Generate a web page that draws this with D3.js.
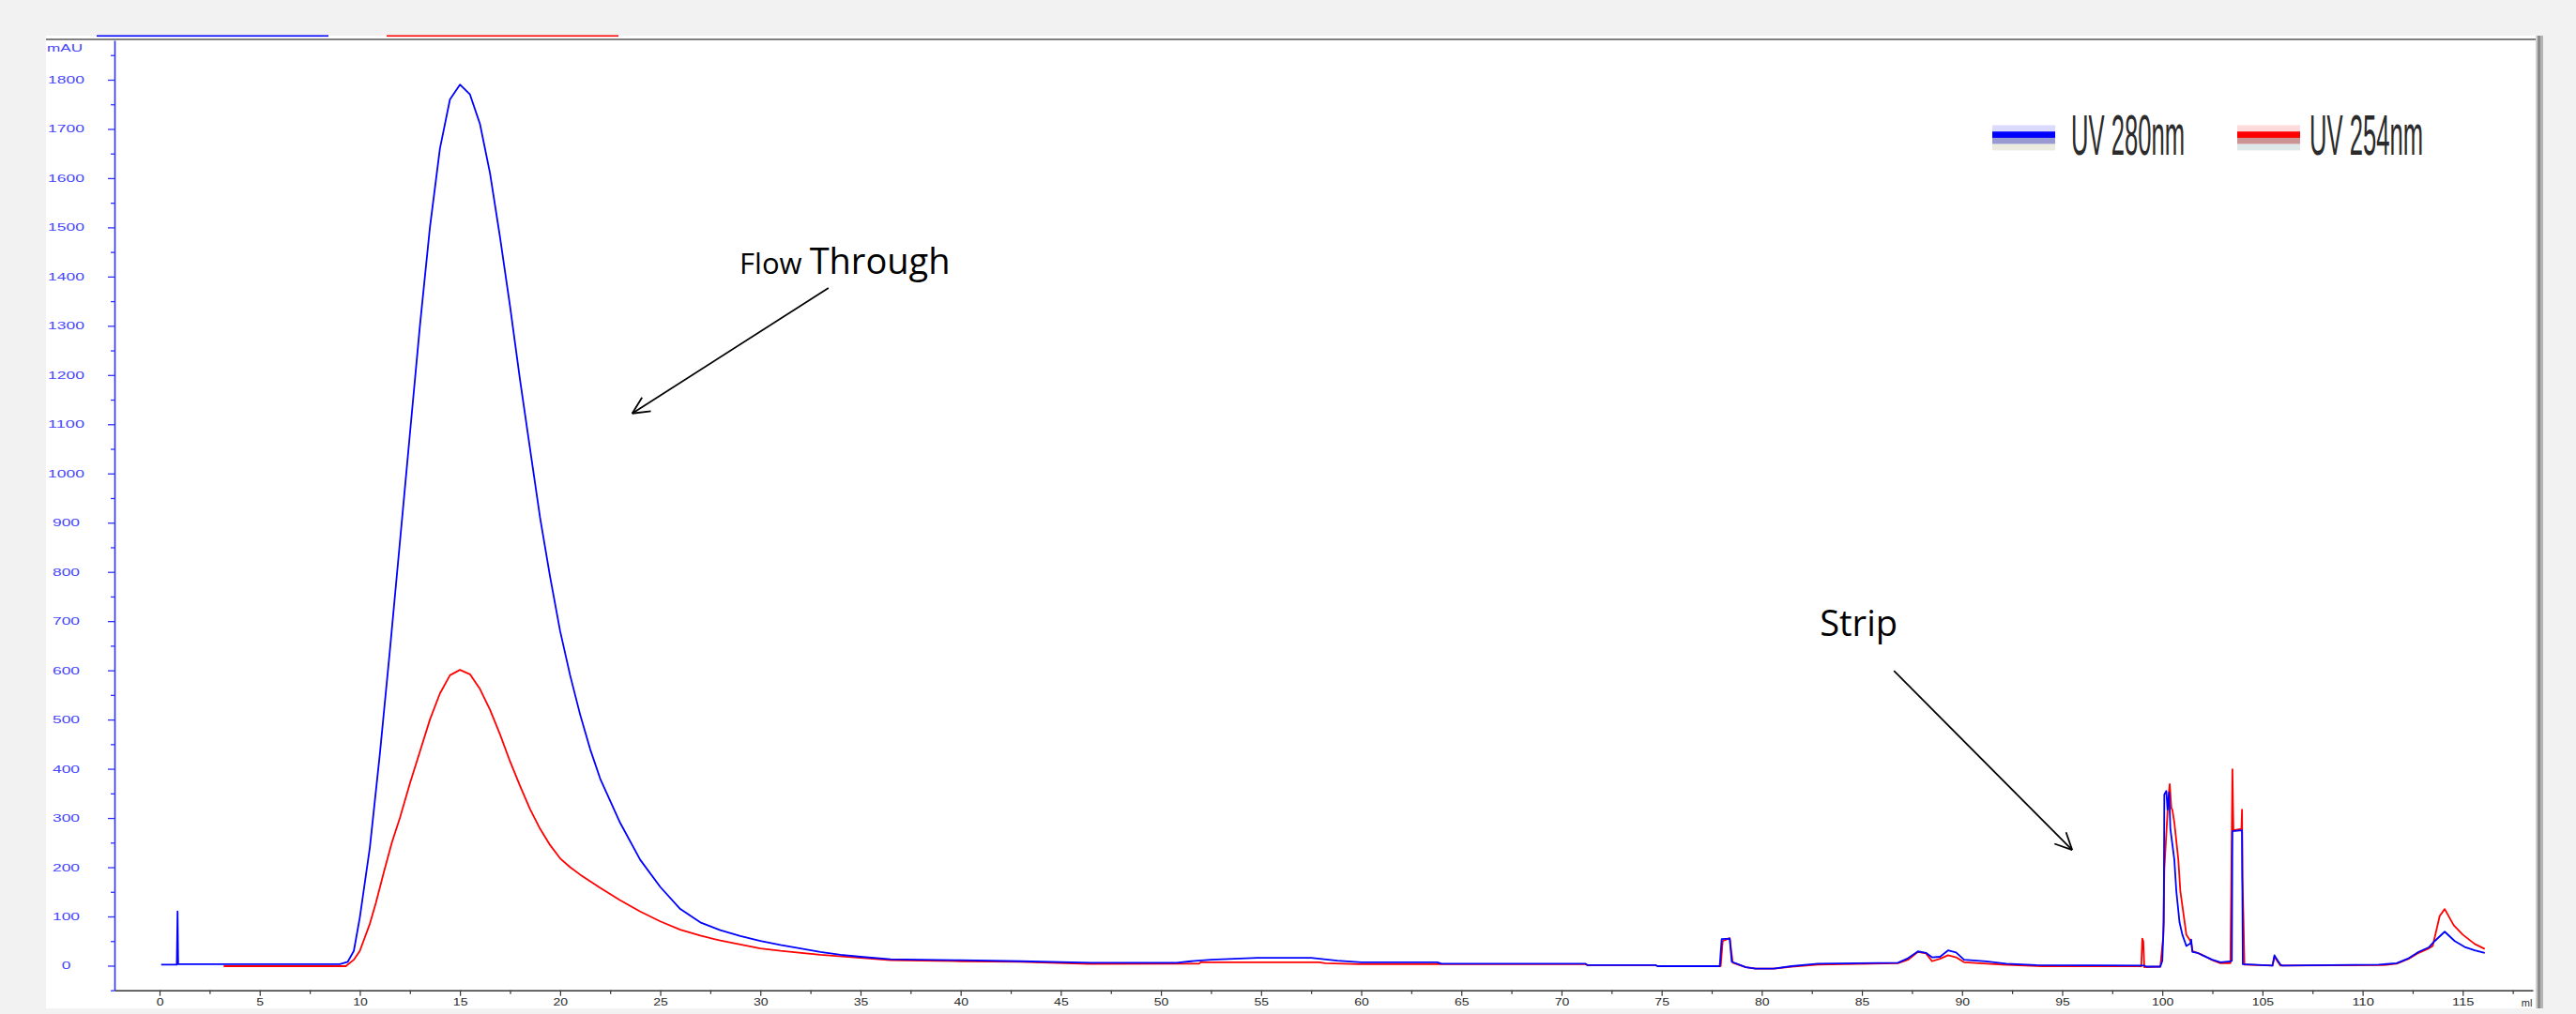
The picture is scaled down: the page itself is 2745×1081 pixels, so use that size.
<!DOCTYPE html>
<html>
<head>
<meta charset="utf-8">
<script src="https://cdn.jsdelivr.net/npm/d3@7"></script>
<style>
  html, body { margin: 0; padding: 0; background: #f2f2f2; overflow: hidden; }
  svg { display: block; }
</style>
</head>
<body>
<svg id="chart" width="2745" height="1081"></svg>
<script>
// UV 280 nm trace: [volume (ml), absorbance (mAU)]
const uv280 = [
  [0.08,2],[0.86,2],[0.9,110],[0.93,3],[3,3],[6,3],[9,3],[9.4,8],[9.7,30],[10.0,98],
  [10.5,240],[11.0,430],[11.5,640],[12.0,860],[12.5,1080],[13.0,1300],[13.5,1500],[14.0,1660],
  [14.5,1760],[15.0,1790],[15.5,1770],[16.0,1710],[16.5,1610],[17.0,1480],[17.5,1340],[18.0,1190],
  [18.5,1050],[19.0,910],[19.5,790],[20.0,680],[20.5,590],[21.0,510],[21.5,440],[22.0,380],
  [23.0,290],[24.0,215],[25.0,160],[26.0,115],[27.0,88],[28.0,72],[29.0,60],[30.0,50],[31.0,42],
  [32.0,35],[33.0,28],[34.0,22],[35.0,18],[36.5,13],[38,12],[40,11],[43,9],[46.5,6],[50.8,6],
  [51.5,9],[52.5,12],[54.8,16],[57.5,16],[58.8,10],[60,7],[63.8,7],[64,4],[71.2,4],[71.3,1],
  [74.7,1],[74.8,-1],[77.9,-1],[78.0,54],[78.4,55],[78.5,8],[79.2,-3],[79.7,-6],[80.6,-6],
  [81.5,-1],[82.8,4],[86.8,6],[87.3,15],[87.8,29],[88.2,26],[88.5,17],[88.9,18],[89.3,31],
  [89.7,27],[90.1,12],[91.2,8.6],[92.2,4],[93.7,1],[99.1,0],[99.2,-2],[99.9,-2],[100.0,10],
  [100.07,88],[100.1,348],[100.2,355],[100.26,317],[100.34,352],[100.4,279],[100.6,215],[100.7,151],
  [100.86,88],[101.0,63],[101.2,40],[101.4,45],[101.44,53],[101.5,28],[101.76,26],[102,21],
  [102.5,12],[102.9,7],[103.4,8.6],[103.47,10],[103.5,273],[103.98,275],[104.02,3],[105.5,0],
  [105.6,21],[105.7,14],[105.9,2],[106,0],[110.8,2],[111.7,5],[112.3,15],[112.8,28],[113.3,37],
  [113.6,50],[114.1,69],[114.6,50],[115.1,38],[115.6,31],[116.1,26]
];

// UV 254 nm trace: [volume (ml), absorbance (mAU)]
const uv254 = [
  [3.2,-1],[9.3,-1],[9.7,12],[10.0,30],[10.5,85],[10.8,127],[11.2,190],[11.6,250],[12.0,300],
  [12.5,370],[13.0,435],[13.5,500],[14.0,553],[14.5,590],[15.0,601],[15.5,592],[16.0,562],
  [16.5,520],[17.0,470],[17.5,415],[18.0,365],[18.5,318],[19.0,278],[19.5,245],[20.0,218],
  [20.5,200],[21.0,185],[22.0,158],[23.0,133],[24.0,110],[25.0,90],[26.0,73],[27.0,61],[28.0,51],
  [29.0,43],[30.0,35],[31.0,30],[33.0,22],[35.0,16],[36.5,11],[38,10],[40,9],[42.9,8],[46.4,3.5],
  [51.9,4],[52,7],[57.9,7],[58.2,5],[59.9,3],[71.2,3],[71.3,1],[74.7,1],[74.8,-1],[77.95,-1],
  [78.05,50],[78.4,56],[78.55,6],[79.2,-3],[79.7,-6],[80.6,-6],[81.5,-2],[82.8,2],[86.8,5],
  [87.3,12],[87.8,28],[88.2,25],[88.5,9],[88.9,14],[89.3,21],[89.7,17],[90.1,7],[92,2],[94,-1],
  [98.95,-1],[99.0,55],[99.05,50],[99.1,-3],[99.9,-2],[100.05,60],[100.1,196],[100.3,340],
  [100.37,369],[100.45,320],[100.5,317],[100.6,291],[100.8,215],[100.9,151],[101.2,63],
  [101.44,48],[101.5,30],[102,22],[102.5,11],[102.9,5],[103.4,5],[103.45,193],[103.5,399],
  [103.55,275],[103.95,278],[103.98,317],[104.0,180],[104.05,98],[104.1,2],[105.5,0],[105.6,18],
  [105.9,0],[111,1],[111.7,4],[112.3,14],[112.8,26],[113.3,35],[113.5,40],[113.85,101],
  [114.1,115],[114.55,82],[115.0,63],[115.6,44],[116.1,34]
];

const seriesNames = ["UV 280nm", "UV 254nm"];
const seriesColors = ["#0000ff", "#ff0000"];

// axis ticks
const yMajorTicks = d3.range(0, 1801, 100);
const yMinorTicks = d3.range(-50, 1851, 100);
const xMajorTicks = d3.range(0, 116, 5);
const xMinorTicks = d3.range(2.5, 118, 5);
const yUnit = "mAU";
const xUnit = "ml";

// text callouts, anchored in data units: label position and arrow from/to
const annotationLabels = [["Flow ", "Through"], ["Strip"]];
const annotationAnchors = [[28.96, 1406], [82.9, 669]];
const arrowFrom = [[33.4, 1377], [86.6, 599]];
const arrowTo = [[23.6, 1122], [95.5, 235]];

const svg = d3.select("#chart");

const x = d3.scaleLinear().domain([-2.25, 118.5]).range([122, 2699]);
const y = d3.scaleLinear().domain([-50, 1880]).range([1055.7, 43]);

// plot panel
svg.append("rect").attr("x", 49).attr("y", 38).attr("width", 2654).attr("height", 1037).attr("fill", "#ffffff");
svg.append("rect").attr("x", 49).attr("y", 41).attr("width", 2654).attr("height", 2).attr("fill", "#808080");
svg.append("rect").attr("x", 2702).attr("y", 38).attr("width", 2).attr("height", 1037).attr("fill", "#cfcfcf");
svg.append("rect").attr("x", 2704).attr("y", 38).attr("width", 3).attr("height", 1037).attr("fill", "#8c8c8c");
svg.append("rect").attr("x", 2707).attr("y", 38).attr("width", 3).attr("height", 1037).attr("fill", "#b4b4b4");

// curve colour keys along the top edge
seriesColors.forEach((c, i) => {
  svg.append("rect").attr("x", 103 + i * 309).attr("y", 37.5).attr("width", 247).attr("height", 1.6).attr("fill", c);
});

// Y axis (blue)
const yAxisG = svg.append("g").attr("transform", `translate(${x.range()[0]},0)`);
yAxisG.call(d3.axisLeft(y).tickValues(yMinorTicks).tickSize(4).tickFormat("").tickSizeOuter(0));
const yMaj = svg.append("g").attr("transform", `translate(${x.range()[0]},0)`)
  .call(d3.axisLeft(y).tickValues(yMajorTicks).tickSize(7).tickSizeOuter(0).tickFormat(d3.format("d")));
[yAxisG, yMaj].forEach(g => {
  g.select(".domain").attr("stroke", "#2f2fff").attr("stroke-width", 1.6);
  g.selectAll(".tick line").attr("stroke", "#2f2fff").attr("stroke-width", 1.3);
});
yMaj.select(".domain").remove();
yMaj.selectAll(".tick text")
  .attr("x", -51.5).attr("text-anchor", "middle")
  .attr("fill", "#4646ff")
  .style("font-family", "'Liberation Sans', Arial, sans-serif")
  .style("font-size", "11px")
  .attr("textLength", d => String(d).length * 9.7)
  .attr("lengthAdjust", "spacingAndGlyphs");
svg.append("text").text(yUnit)
  .attr("x", 69).attr("y", 55).attr("text-anchor", "middle")
  .attr("fill", "#4646ff")
  .style("font-family", "'Liberation Sans', Arial, sans-serif").style("font-size", "11px")
  .attr("textLength", 38).attr("lengthAdjust", "spacingAndGlyphs");

// X axis
const xAxisY = y(-50);
const xMin = svg.append("g").attr("transform", `translate(0,${xAxisY})`)
  .call(d3.axisBottom(x).tickValues(xMinorTicks).tickSize(4).tickFormat("").tickSizeOuter(0));
const xMaj = svg.append("g").attr("transform", `translate(0,${xAxisY})`)
  .call(d3.axisBottom(x).tickValues(xMajorTicks).tickSize(6).tickSizeOuter(0).tickFormat(d3.format("d")));
xMaj.select(".domain").remove();
xMin.select(".domain").attr("stroke", "#333").attr("stroke-width", 1.6);
[xMin, xMaj].forEach(g => g.selectAll(".tick line").attr("stroke", "#333").attr("stroke-width", 1.2));
xMaj.selectAll(".tick text")
  .attr("y", 9).attr("dy", "0.71em")
  .attr("fill", "#2a2a2a")
  .style("font-family", "'Liberation Sans', Arial, sans-serif")
  .style("font-size", "11px")
  .attr("textLength", d => String(d).length * 7.8)
  .attr("lengthAdjust", "spacingAndGlyphs");
svg.append("text").text(xUnit)
  .attr("x", x(118.2)).attr("y", xAxisY + 17).attr("text-anchor", "middle")
  .attr("fill", "#2a2a2a")
  .style("font-family", "'Liberation Sans', Arial, sans-serif").style("font-size", "11px");

// traces (UV 254 underneath, UV 280 on top)
const line = d3.line().x(d => x(d[0])).y(d => y(d[1]));
[[uv254, 1], [uv280, 0]].forEach(([data, idx]) => {
  svg.append("path").datum(data)
    .attr("d", line)
    .attr("fill", "none")
    .attr("stroke", seriesColors[idx])
    .attr("stroke-width", 1.8)
    .attr("stroke-linejoin", "round");
});

// legend with soft shadowed swatches; tall condensed labels
const legendX = [2123, 2384];
const legendTextX = [2207, 2461];
seriesNames.forEach((name, i) => {
  const g = svg.append("g");
  const tints = i === 0
    ? ["#dadaff", seriesColors[0], "#9a9ad2", "#ebebe0"]
    : ["#ffdada", seriesColors[1], "#cc9494", "#e0e9e9"];
  tints.forEach((c, j) => {
    g.append("rect").attr("x", legendX[i]).attr("y", 133.5 + j * 6.7)
      .attr("width", 67).attr("height", 6.8).attr("fill", c);
  });
  g.append("text").text(name)
    .attr("transform", `translate(${legendTextX[i]},165) scale(1,2)`)
    .attr("fill", "#2b2b2b")
    .style("font-family", "'Liberation Sans Narrow', 'Liberation Sans', Arial, sans-serif")
    .style("font-size", "31px")
    .attr("textLength", 121).attr("lengthAdjust", "spacingAndGlyphs");
});

// callouts
const calloutFont = "'Open Sans', 'Noto Sans', sans-serif";
annotationLabels.forEach((parts, i) => {
  const [ax, ay] = annotationAnchors[i];
  const t = svg.append("text").attr("x", x(ax)).attr("y", y(ay))
    .attr("fill", "#000").style("font-family", calloutFont);
  if (parts.length === 2) {
    t.append("tspan").text(parts[0]).style("font-size", "31px");
    t.append("tspan").text(parts[1]).style("font-size", "38px");
  } else {
    t.append("tspan").text(parts[0]).style("font-size", "38px");
  }
  const x1 = x(arrowFrom[i][0]), y1 = y(arrowFrom[i][1]);
  const x2 = x(arrowTo[i][0]), y2 = y(arrowTo[i][1]);
  svg.append("line").attr("x1", x1).attr("y1", y1).attr("x2", x2).attr("y2", y2)
    .attr("stroke", "#000").attr("stroke-width", 1.8);
  const ang = Math.atan2(y1 - y2, x1 - x2);
  const head = 20, spread = Math.PI / 7;
  [ang - spread, ang + spread].forEach(a => {
    svg.append("line")
      .attr("x1", x2).attr("y1", y2)
      .attr("x2", x2 + head * Math.cos(a)).attr("y2", y2 + head * Math.sin(a))
      .attr("stroke", "#000").attr("stroke-width", 1.8);
  });
});
</script>
</body>
</html>
